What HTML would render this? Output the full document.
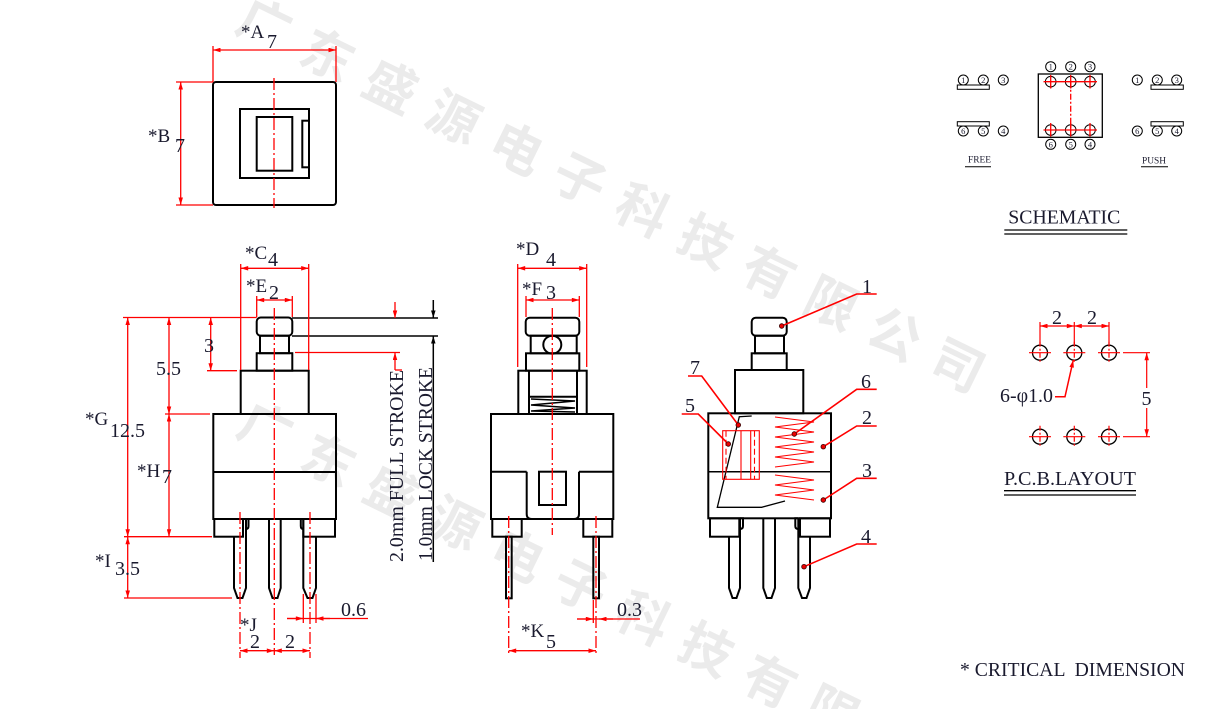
<!DOCTYPE html>
<html><head><meta charset="utf-8"><style>
html,body{margin:0;padding:0;background:#fff;width:1207px;height:709px;overflow:hidden;}
svg{display:block;overflow:hidden;}
.t{font-family:"Liberation Serif",serif;fill:#1a1a2e;}
.wm{font-family:"Liberation Sans","Noto Sans CJK SC",sans-serif;font-weight:700;font-size:52px;fill:#ebebeb;text-anchor:middle;dominant-baseline:central;}
</style></head><body>
<svg width="1207" height="709" viewBox="0 0 1207 709" xmlns="http://www.w3.org/2000/svg">
<defs>
<marker id="a" viewBox="0 0 10 6" refX="10" refY="3" markerWidth="9" markerHeight="4.5" markerUnits="userSpaceOnUse" orient="auto-start-reverse"><path d="M0,0L10,3L0,6z" fill="#f00"/></marker>
<marker id="b" viewBox="0 0 10 6" refX="10" refY="3" markerWidth="9" markerHeight="4.5" markerUnits="userSpaceOnUse" orient="auto-start-reverse"><path d="M0,0L10,3L0,6z" fill="#000"/></marker>
<clipPath id="pg"><rect x="0" y="0" width="1207" height="709"/></clipPath>
</defs>
<rect width="1207" height="709" fill="#fff"/>

<!-- watermark -->
<g class="wm" clip-path="url(#pg)">
<text transform="translate(264,26) rotate(26)">广</text>
<text transform="translate(327,57) rotate(26)">东</text>
<text transform="translate(390,88) rotate(26)">盛</text>
<text transform="translate(453,119) rotate(26)">源</text>
<text transform="translate(516,150) rotate(26)">电</text>
<text transform="translate(579,181) rotate(26)">子</text>
<text transform="translate(642,212) rotate(26)">科</text>
<text transform="translate(705,243) rotate(26)">技</text>
<text transform="translate(768,274) rotate(26)">有</text>
<text transform="translate(831,305) rotate(26)">限</text>
<text transform="translate(894,336) rotate(26)">公</text>
<text transform="translate(957,367) rotate(26)">司</text>
<text transform="translate(265,430) rotate(26)">广</text>
<text transform="translate(328,462) rotate(26)">东</text>
<text transform="translate(391,494) rotate(26)">盛</text>
<text transform="translate(454,525) rotate(26)">源</text>
<text transform="translate(517,557) rotate(26)">电</text>
<text transform="translate(580,588) rotate(26)">子</text>
<text transform="translate(643,620) rotate(26)">科</text>
<text transform="translate(706,651) rotate(26)">技</text>
<text transform="translate(769,683) rotate(26)">有</text>
<text transform="translate(832,714) rotate(26)">限</text>
</g>

<!-- ===== TOP VIEW ===== -->
<g stroke="#000" stroke-width="2" fill="none">
<rect x="213" y="82" width="123" height="123" rx="3"/>
<rect x="240" y="109" width="69" height="69"/>
<rect x="256.7" y="117" width="35.6" height="53.7"/>
<rect x="302.3" y="120.7" width="6.7" height="46.6"/>
</g>
<g stroke="#f00" stroke-width="1.3" fill="none">
<line x1="274" y1="78" x2="274" y2="208" stroke-dasharray="12 3 2 3"/>
<line x1="213" y1="46" x2="213" y2="82"/>
<line x1="336" y1="46" x2="336" y2="82"/>
<line x1="213" y1="50" x2="336" y2="50" marker-start="url(#a)" marker-end="url(#a)"/>
<line x1="176" y1="82" x2="213" y2="82"/>
<line x1="176" y1="205" x2="213" y2="205"/>
<line x1="180.7" y1="82" x2="180.7" y2="205" marker-start="url(#a)" marker-end="url(#a)"/>
</g>
<text class="t" x="241" y="38" font-size="19">*A</text>
<text class="t" x="267" y="48" font-size="20">7</text>
<text class="t" x="148" y="142" font-size="19">*B</text>
<text class="t" x="175" y="152" font-size="20">7</text>

<!-- ===== FRONT VIEW ===== -->
<g stroke="#000" stroke-width="2" fill="none">
<rect x="256.7" y="317.5" width="35.6" height="18.2" rx="4"/>
<rect x="260" y="335.7" width="29" height="17.5"/>
<rect x="256.7" y="353.2" width="35.6" height="17.5"/>
<rect x="240.7" y="370.7" width="68" height="43.3"/>
<rect x="213.3" y="414" width="122.7" height="105"/>
<line x1="213.3" y1="472" x2="336" y2="472"/>
<rect x="214.3" y="519" width="28.7" height="17.7"/>
<rect x="303.3" y="519" width="31.7" height="17.7"/>
<path d="M234,536.7V588L237.5,598H242.5L246,588V519"/>
<path d="M246,519H248.5V526Q248.5,529 246,529"/>
<path d="M269,519V588L272.5,598H277.5L280.7,588V519"/>
<path d="M316,536.7V588L312.5,598H307.5L303.3,588V519"/>
<path d="M303.3,519H300.8V526Q300.8,529 303.3,529"/>
</g>
<g stroke="#000" stroke-width="1.5" fill="none">
<line x1="292" y1="318" x2="438" y2="318"/>
<line x1="292" y1="336" x2="438" y2="336"/>
<line x1="433.3" y1="300" x2="433.3" y2="318" marker-end="url(#b)"/>
<line x1="433.3" y1="562" x2="433.3" y2="336" marker-end="url(#b)"/>
</g>
<g stroke="#f00" stroke-width="1.3" fill="none">
<line x1="274.3" y1="308" x2="274.3" y2="655" stroke-dasharray="12 3 2 3"/>
<line x1="240" y1="512" x2="240" y2="658" stroke-dasharray="12 3 2 3"/>
<line x1="310" y1="512" x2="310" y2="658" stroke-dasharray="12 3 2 3"/>
<line x1="240.7" y1="264" x2="240.7" y2="370"/>
<line x1="308.7" y1="264" x2="308.7" y2="370"/>
<line x1="240.7" y1="268.3" x2="308.7" y2="268.3" marker-start="url(#a)" marker-end="url(#a)"/>
<line x1="256.7" y1="296" x2="256.7" y2="317"/>
<line x1="292.3" y1="296" x2="292.3" y2="317"/>
<line x1="256.7" y1="300" x2="292.3" y2="300" marker-start="url(#a)" marker-end="url(#a)"/>
<line x1="123" y1="317.5" x2="256.7" y2="317.5"/>
<line x1="295" y1="352.5" x2="400" y2="352.5"/>
<line x1="207" y1="370.7" x2="237" y2="370.7"/>
<line x1="210.7" y1="317.5" x2="210.7" y2="370.7" marker-start="url(#a)" marker-end="url(#a)"/>
<line x1="165" y1="414" x2="210" y2="414"/>
<line x1="169" y1="317.5" x2="169" y2="414" marker-start="url(#a)" marker-end="url(#a)"/>
<line x1="127.7" y1="317.5" x2="127.7" y2="536.7" marker-start="url(#a)" marker-end="url(#a)"/>
<line x1="124" y1="536.7" x2="212" y2="536.7"/>
<line x1="169" y1="414" x2="169" y2="536.7" marker-start="url(#a)" marker-end="url(#a)"/>
<line x1="124" y1="598" x2="232" y2="598"/>
<line x1="127.7" y1="536.7" x2="127.7" y2="598" marker-start="url(#a)" marker-end="url(#a)"/>
<line x1="240" y1="650.7" x2="274.3" y2="650.7" marker-start="url(#a)" marker-end="url(#a)"/>
<line x1="274.3" y1="650.7" x2="310" y2="650.7" marker-start="url(#a)" marker-end="url(#a)"/>
<line x1="303.3" y1="594" x2="303.3" y2="623"/>
<line x1="316" y1="594" x2="316" y2="623"/>
<line x1="287" y1="618.5" x2="368" y2="618.5"/>
<line x1="287" y1="618.5" x2="303.3" y2="618.5" marker-end="url(#a)"/>
<line x1="330" y1="618.5" x2="316" y2="618.5" marker-end="url(#a)"/>
<line x1="395" y1="302" x2="395" y2="318" marker-end="url(#a)"/>
<line x1="395" y1="370" x2="395" y2="352.5" marker-end="url(#a)"/>
<line x1="395" y1="370" x2="402" y2="370"/>
</g>
<text class="t" x="245" y="259" font-size="19">*C</text>
<text class="t" x="268" y="266" font-size="20">4</text>
<text class="t" x="246" y="292" font-size="19">*E</text>
<text class="t" x="269" y="299" font-size="20">2</text>
<text class="t" x="204" y="352" font-size="20">3</text>
<text class="t" x="156" y="375" font-size="20">5.5</text>
<text class="t" x="85" y="425" font-size="19">*G</text>
<text class="t" x="110" y="437" font-size="20">12.5</text>
<text class="t" x="137" y="477" font-size="19">*H</text>
<text class="t" x="162" y="483" font-size="20">7</text>
<text class="t" x="95" y="567" font-size="19">*I</text>
<text class="t" x="115" y="575" font-size="20">3.5</text>
<text class="t" x="240" y="631" font-size="19">*J</text>
<text class="t" x="250" y="648" font-size="20">2</text>
<text class="t" x="285" y="648" font-size="20">2</text>
<text class="t" x="341" y="616" font-size="20">0.6</text>
<text class="t" font-size="20" transform="translate(403,562) rotate(-90)" textLength="192" lengthAdjust="spacingAndGlyphs">2.0mm FULL STROKE</text>
<text class="t" font-size="20" transform="translate(432,561) rotate(-90)" textLength="194" lengthAdjust="spacingAndGlyphs">1.0mm LOCK STROKE</text>

<!-- ===== SIDE VIEW ===== -->
<g stroke="#000" stroke-width="2" fill="none">
<rect x="525.7" y="317.7" width="53.6" height="18" rx="4"/>
<rect x="530.7" y="335.7" width="46" height="17.6"/>
<circle cx="552.3" cy="344.7" r="9"/>
<rect x="526" y="353.3" width="53.3" height="17.4"/>
<rect x="518.3" y="370.7" width="68.4" height="43.3"/>
<line x1="529" y1="370.7" x2="529" y2="414"/>
<line x1="577" y1="370.7" x2="577" y2="414"/>
<line x1="529" y1="396.7" x2="577" y2="396.7"/>
<polyline stroke-width="1.5" points="531,399 575,401 531,405 575,408 531,411 575,412"/>
<rect x="491" y="414" width="122.3" height="105"/>
<line x1="491" y1="471.7" x2="526.7" y2="471.7"/>
<line x1="579" y1="471.7" x2="613.3" y2="471.7"/>
<path d="M526.7,471.7V514Q526.7,519 531.7,519"/>
<path d="M579,471.7V514Q579,519 574,519"/>
<rect x="539" y="471.7" width="27" height="33.3"/>
<rect x="492.3" y="519" width="29.4" height="17.7"/>
<rect x="583.3" y="519" width="29" height="17.7"/>
<rect x="506" y="536.7" width="5.7" height="61.6"/>
<rect x="593.3" y="536.7" width="5.7" height="61.6"/>
</g>
<g stroke="#f00" stroke-width="1.3" fill="none">
<line x1="552.3" y1="308" x2="552.3" y2="535" stroke-dasharray="12 3 2 3"/>
<line x1="508.7" y1="516" x2="508.7" y2="656" stroke-dasharray="12 3 2 3"/>
<line x1="596" y1="516" x2="596" y2="656" stroke-dasharray="12 3 2 3"/>
<line x1="517.7" y1="264" x2="517.7" y2="367"/>
<line x1="586.7" y1="264" x2="586.7" y2="367"/>
<line x1="517.7" y1="268.3" x2="586.7" y2="268.3" marker-start="url(#a)" marker-end="url(#a)"/>
<line x1="526" y1="296" x2="526" y2="317"/>
<line x1="579.3" y1="296" x2="579.3" y2="317"/>
<line x1="526" y1="300" x2="579.3" y2="300" marker-start="url(#a)" marker-end="url(#a)"/>
<line x1="508.7" y1="650.7" x2="596" y2="650.7" marker-start="url(#a)" marker-end="url(#a)"/>
<line x1="593.3" y1="600" x2="593.3" y2="623"/>
<line x1="577" y1="619" x2="640" y2="619"/>
<line x1="577" y1="619" x2="593.3" y2="619" marker-end="url(#a)"/>
<line x1="613" y1="619" x2="599" y2="619" marker-end="url(#a)"/>
</g>
<text class="t" x="516" y="255" font-size="19">*D</text>
<text class="t" x="546" y="266" font-size="20">4</text>
<text class="t" x="522" y="295" font-size="19">*F</text>
<text class="t" x="546" y="299" font-size="20">3</text>
<text class="t" x="521" y="637" font-size="19">*K</text>
<text class="t" x="546" y="648" font-size="20">5</text>
<text class="t" x="617" y="616" font-size="20">0.3</text>

<!-- ===== THIRD VIEW ===== -->
<g stroke="#000" stroke-width="2" fill="none">
<rect x="751.7" y="317.7" width="35" height="18" rx="4"/>
<rect x="755" y="335.7" width="29" height="17.6"/>
<rect x="751.7" y="353.3" width="35" height="16.7"/>
<rect x="735" y="370" width="68.3" height="43.3"/>
<rect x="708.3" y="413.3" width="122.7" height="105"/>
<rect x="710" y="518.3" width="29.3" height="18.4"/>
<rect x="800" y="518.3" width="30" height="18.4"/>
<path d="M729,536.7V588L732.5,598H736.5L740,588V518.3"/>
<path d="M740,518.3H743V526Q743,529 740,529"/>
<path d="M763.3,518.3V588L766.8,598H771.5L775,588V518.3"/>
<path d="M810,536.7V588L806.5,598H802L798.3,588V518.3"/>
<path d="M798.3,518.3H795.3V526Q795.3,529 798.3,529"/>
</g>
<line x1="708.3" y1="471.7" x2="831" y2="471.7" stroke="#000" stroke-width="1.5"/>
<polyline points="751.7,416 739.3,416.7 717.3,507.3 761.7,507.3 785,501" stroke="#000" stroke-width="1.3" fill="none"/>
<g stroke="#f00" stroke-width="1.1" fill="none">
<polyline points="775,417 814,422 775,427 814,432 775,437 814,442 775,447 814,452 775,457 814,462 775,467"/>
<polyline points="775,475 814,480 775,485 814,490 775,495 814,500"/>
<rect x="722.7" y="430.7" width="36.6" height="48.6"/>
<line x1="741" y1="430.7" x2="741" y2="479.3"/>
<line x1="750.7" y1="430.7" x2="750.7" y2="479.3"/>
<line x1="726" y1="430.7" x2="726" y2="479.3" stroke-dasharray="6 3"/>
<line x1="754.5" y1="430.7" x2="754.5" y2="479.3" stroke-dasharray="6 3"/>
</g>
<g stroke="#f00" stroke-width="1.6" fill="none">
<polyline points="876.7,294 856.7,294 781.7,326"/>
<polyline points="876.7,389.3 856.7,389.3 794.3,434"/>
<polyline points="876.7,426 856.7,426 823.3,446.7"/>
<polyline points="876.7,478.3 856.7,478.3 823.3,500"/>
<polyline points="876.7,544 856.7,544 804,566.7"/>
<polyline points="688,376 701.7,376 738.3,425"/>
<polyline points="681.7,414 698.3,414 728.3,444"/>
</g>
<g fill="#e00" stroke="#300" stroke-width="0.8">
<circle cx="781.7" cy="326" r="2.3"/>
<circle cx="794.3" cy="434" r="2.3"/>
<circle cx="823.3" cy="446.7" r="2.3"/>
<circle cx="823.3" cy="500" r="2.3"/>
<circle cx="804" cy="566.7" r="2.3"/>
<circle cx="738.3" cy="425" r="2.3"/>
<circle cx="728.3" cy="444" r="2.3"/>
</g>
<g class="t" font-size="20" text-anchor="middle">
<text x="867" y="293">1</text>
<text x="866" y="388">6</text>
<text x="867" y="424">2</text>
<text x="867" y="477">3</text>
<text x="866" y="543">4</text>
<text x="695" y="374">7</text>
<text x="690" y="412">5</text>
</g>

<!-- ===== SCHEMATIC ===== -->
<g stroke="#000" stroke-width="1" fill="#fff">
<rect x="957.3" y="85" width="32" height="4.3"/>
<rect x="957.3" y="121.7" width="32" height="4.3"/>
<rect x="1151" y="85" width="32.3" height="4.3"/>
<rect x="1151" y="121.7" width="32.3" height="4.3"/>
<rect x="1038.3" y="74" width="64" height="63.3" fill="none" stroke-width="1.3"/>
</g>
<g stroke="#000" stroke-width="1" fill="none">
<circle cx="963.3" cy="80" r="5"/><circle cx="983.3" cy="80" r="5"/><circle cx="1003.3" cy="80" r="5"/>
<circle cx="963.3" cy="131" r="5"/><circle cx="983.3" cy="131" r="5"/><circle cx="1003.3" cy="131" r="5"/>
<circle cx="1137.3" cy="80" r="5"/><circle cx="1157.3" cy="80" r="5"/><circle cx="1176.7" cy="80" r="5"/>
<circle cx="1137.3" cy="131" r="5"/><circle cx="1157.3" cy="131" r="5"/><circle cx="1176.7" cy="131" r="5"/>
<circle cx="1050.7" cy="66.7" r="5"/><circle cx="1070.7" cy="66.7" r="5"/><circle cx="1090" cy="66.7" r="5"/>
<circle cx="1050.7" cy="144.3" r="5"/><circle cx="1070.7" cy="144.3" r="5"/><circle cx="1090" cy="144.3" r="5"/>
<circle cx="1050.7" cy="81.7" r="5.3"/><circle cx="1070.7" cy="81.7" r="5.3"/><circle cx="1090" cy="81.7" r="5.3"/>
<circle cx="1050.7" cy="130" r="5.3"/><circle cx="1070.7" cy="130" r="5.3"/><circle cx="1090" cy="130" r="5.3"/>
</g>
<g stroke="#f00" stroke-width="1.3" fill="none">
<line x1="1043.5" y1="81.7" x2="1097" y2="81.7"/>
<line x1="1043.5" y1="130" x2="1097" y2="130"/>
<line x1="1050.7" y1="75" x2="1050.7" y2="88.5"/><line x1="1070.7" y1="75" x2="1070.7" y2="88.5"/><line x1="1090" y1="75" x2="1090" y2="88.5"/>
<line x1="1050.7" y1="123" x2="1050.7" y2="136.5"/><line x1="1070.7" y1="123" x2="1070.7" y2="136.5"/><line x1="1090" y1="123" x2="1090" y2="136.5"/>
<line x1="1070.7" y1="81.7" x2="1070.7" y2="130" stroke-dasharray="6 2 2 2"/>
</g>
<g class="t" font-size="8.5" text-anchor="middle">
<text x="963.3" y="83">1</text><text x="983.3" y="83">2</text><text x="1003.3" y="83">3</text>
<text x="963.3" y="134">6</text><text x="983.3" y="134">5</text><text x="1003.3" y="134">4</text>
<text x="1137.3" y="83">1</text><text x="1157.3" y="83">2</text><text x="1176.7" y="83">3</text>
<text x="1137.3" y="134">6</text><text x="1157.3" y="134">5</text><text x="1176.7" y="134">4</text>
<text x="1050.7" y="69.7">1</text><text x="1070.7" y="69.7">2</text><text x="1090" y="69.7">3</text>
<text x="1050.7" y="147.3">6</text><text x="1070.7" y="147.3">5</text><text x="1090" y="147.3">4</text>
</g>
<text class="t" x="968" y="162.7" font-size="9.5" textLength="23" lengthAdjust="spacingAndGlyphs">FREE</text>
<text class="t" x="1142" y="163.3" font-size="9.5" textLength="24" lengthAdjust="spacingAndGlyphs">PUSH</text>
<g stroke="#000" stroke-width="1">
<line x1="965" y1="166.7" x2="991" y2="166.7"/>
<line x1="1141" y1="166.7" x2="1168" y2="166.7"/>
<line x1="1004.3" y1="230" x2="1127.3" y2="230" stroke-width="1.3"/>
<line x1="1004.3" y1="234" x2="1127.3" y2="234" stroke-width="1.3"/>
<line x1="1004" y1="490.7" x2="1136" y2="490.7" stroke-width="1.3"/>
<line x1="1004" y1="495" x2="1136" y2="495" stroke-width="1.3"/>
</g>
<text class="t" x="1008.3" y="223.3" font-size="19.5" textLength="112" lengthAdjust="spacingAndGlyphs">SCHEMATIC</text>

<!-- ===== PCB LAYOUT ===== -->
<g stroke="#000" stroke-width="1.3" fill="none">
<circle cx="1040" cy="352.7" r="7.5"/><circle cx="1074.3" cy="352.7" r="7.5"/><circle cx="1109" cy="352.7" r="7.5"/>
<circle cx="1040" cy="436.7" r="7.5"/><circle cx="1074.3" cy="436.7" r="7.5"/><circle cx="1109" cy="436.7" r="7.5"/>
</g>
<g stroke="#f00" stroke-width="1.2" fill="none">
<path d="M1029,352.7h22M1063.3,352.7h22M1098,352.7h22M1029,436.7h22M1063.3,436.7h22M1098,436.7h22"/>
<path d="M1040,341.7v22M1074.3,341.7v22M1109,341.7v22M1040,425.7v22M1074.3,425.7v22M1109,425.7v22" stroke-dasharray="5 2 2 2"/>
<line x1="1040" y1="322" x2="1040" y2="344"/>
<line x1="1074.3" y1="322" x2="1074.3" y2="344"/>
<line x1="1109" y1="322" x2="1109" y2="344"/>
<line x1="1040" y1="326" x2="1074.3" y2="326" marker-start="url(#a)" marker-end="url(#a)"/>
<line x1="1074.3" y1="326" x2="1109" y2="326" marker-start="url(#a)" marker-end="url(#a)"/>
<line x1="1123" y1="352.7" x2="1150" y2="352.7"/>
<line x1="1123" y1="436.7" x2="1150" y2="436.7"/>
<line x1="1146.7" y1="388" x2="1146.7" y2="352.7" marker-end="url(#a)"/>
<line x1="1146.7" y1="408" x2="1146.7" y2="436.7" marker-end="url(#a)"/>
<polyline points="1055,396.7 1065,396.7 1073.3,360" marker-end="url(#a)" stroke-width="1.5"/>
</g>
<text class="t" x="1052" y="324" font-size="20">2</text>
<text class="t" x="1087" y="324" font-size="20">2</text>
<text class="t" x="1141.5" y="405" font-size="20">5</text>
<text class="t" x="1000" y="402" font-size="20" textLength="53" lengthAdjust="spacingAndGlyphs">6-φ1.0</text>
<text class="t" x="1004" y="485" font-size="20" textLength="132" lengthAdjust="spacingAndGlyphs">P.C.B.LAYOUT</text>

<text class="t" x="960" y="676" font-size="20" textLength="225" lengthAdjust="spacingAndGlyphs" xml:space="preserve">* CRITICAL  DIMENSION</text>
</svg>
</body></html>
